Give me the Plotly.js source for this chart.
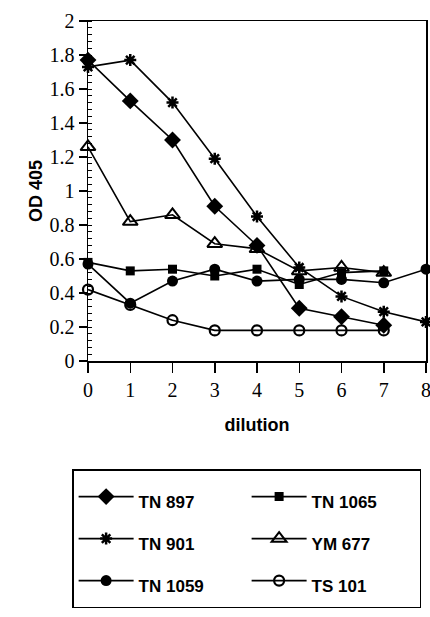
<!DOCTYPE html>
<html><head><meta charset="utf-8">
<script src="https://cdn.plot.ly/plotly-3.0.1.min.js"></script>
<style>html,body{margin:0;padding:0;background:#fff}#chart{width:430px;height:617px}</style>
</head><body><div id="chart"></div>
<script>
var dilution = [0, 1, 2, 3, 4, 5, 6, 7, 8];
var names = ["TN 897", "TN 1065", "TN 901", "YM 677", "TN 1059", "TS 101"];
var tn897  = [1.77, 1.53, 1.30, 0.91, 0.68, 0.31, 0.26, 0.21];
var tn1065 = [0.58, 0.53, 0.54, 0.50, 0.54, 0.45, 0.52, 0.53];
var tn901  = [1.73, 1.77, 1.52, 1.19, 0.85, 0.55, 0.38, 0.29, 0.23];
var ym677  = [1.26, 0.82, 0.86, 0.69, 0.66, 0.53, 0.55, 0.52];
var tn1059 = [0.57, 0.34, 0.47, 0.54, 0.47, 0.48, 0.48, 0.46, 0.54];
var ts101  = [0.42, 0.33, 0.24, 0.18, 0.18, 0.18, 0.18, 0.18];
var yTickVals = [0, 0.2, 0.4, 0.6, 0.8, 1, 1.2, 1.4, 1.6, 1.8, 2];
var yTickText = ["0", "0.2", "0.4", "0.6", "0.8", "1", "1.2", "1.4", "1.6", "1.8", "2"];

var series = [tn897, tn1065, tn901, ym677, tn1059, ts101];
var symbols = [
  {symbol: "diamond", size: 13, line: {width: 0}},
  {symbol: "square", size: 9, line: {width: 0}},
  {symbol: "asterisk-open", size: 10, line: {width: 2.5, color: "#000"}},
  {symbol: "triangle-up-open", size: 13, line: {width: 2, color: "#000"}},
  {symbol: "circle", size: 11, line: {width: 0}},
  {symbol: "circle-open", size: 10, line: {width: 2.2, color: "#000"}}
];
var data = series.map(function (vals, i) {
  var m = symbols[i];
  return {
    x: dilution.slice(0, vals.length), y: vals,
    name: '<span style="font-size:17px">' + names[i] + '</span>',
    type: "scatter", mode: "lines+markers", cliponaxis: false,
    line: {color: "#000", width: 1.6},
    marker: {symbol: m.symbol, size: m.size, color: "#000", line: m.line}
  };
});

var serif = "Liberation Serif, Times New Roman, serif";
var sans = "Liberation Sans, Arial, sans-serif";
var layout = {
  width: 430, height: 617,
  margin: {l: 88, r: 4, t: 21, b: 256, autoexpand: false},
  paper_bgcolor: "#fff", plot_bgcolor: "#fff",
  showlegend: true,
  xaxis: {
    range: [0, 8], tickvals: dilution, ticktext: dilution.map(String),
    showgrid: false, zeroline: false, showline: true, linecolor: "#000", linewidth: 1.5,
    mirror: true, ticks: "outside", ticklen: 10, tickwidth: 1.5, tickcolor: "#000",
    ticklabeloverflow: "allow",
    tickfont: {family: serif, size: 20, color: "#000"},
    title: {text: "dilution", font: {family: sans, size: 18, color: "#000", weight: "bold"}, standoff: 19}
  },
  yaxis: {
    range: [0, 2], tickvals: yTickVals, ticktext: yTickText,
    showgrid: false, zeroline: false, showline: true, linecolor: "#000", linewidth: 1.5,
    mirror: true, ticks: "outside", ticklen: 8, tickwidth: 1.5, tickcolor: "#000",
    tickfont: {family: serif, size: 20, color: "#000"},
    minor: {dtick: 0.04, ticks: "inside", ticklen: 4, tickwidth: 1, tickcolor: "#000", showgrid: false},
    title: {text: "OD 405", font: {family: sans, size: 18, color: "#000", weight: "bold"}, standoff: 2}
  },
  legend: {
    orientation: "h", x: -0.047, xanchor: "left", y: -0.318, yanchor: "top",
    entrywidth: 103, entrywidthmode: "pixels", traceorder: "normal",
    bordercolor: "#000", borderwidth: 1.5, bgcolor: "#fff",
    font: {family: sans, size: 30, color: "#000", weight: "bold"},
    tracegroupgap: 0, itemwidth: 55
  }
};
Plotly.newPlot("chart", data, layout, {displayModeBar: false, staticPlot: true});
</script></body></html>
